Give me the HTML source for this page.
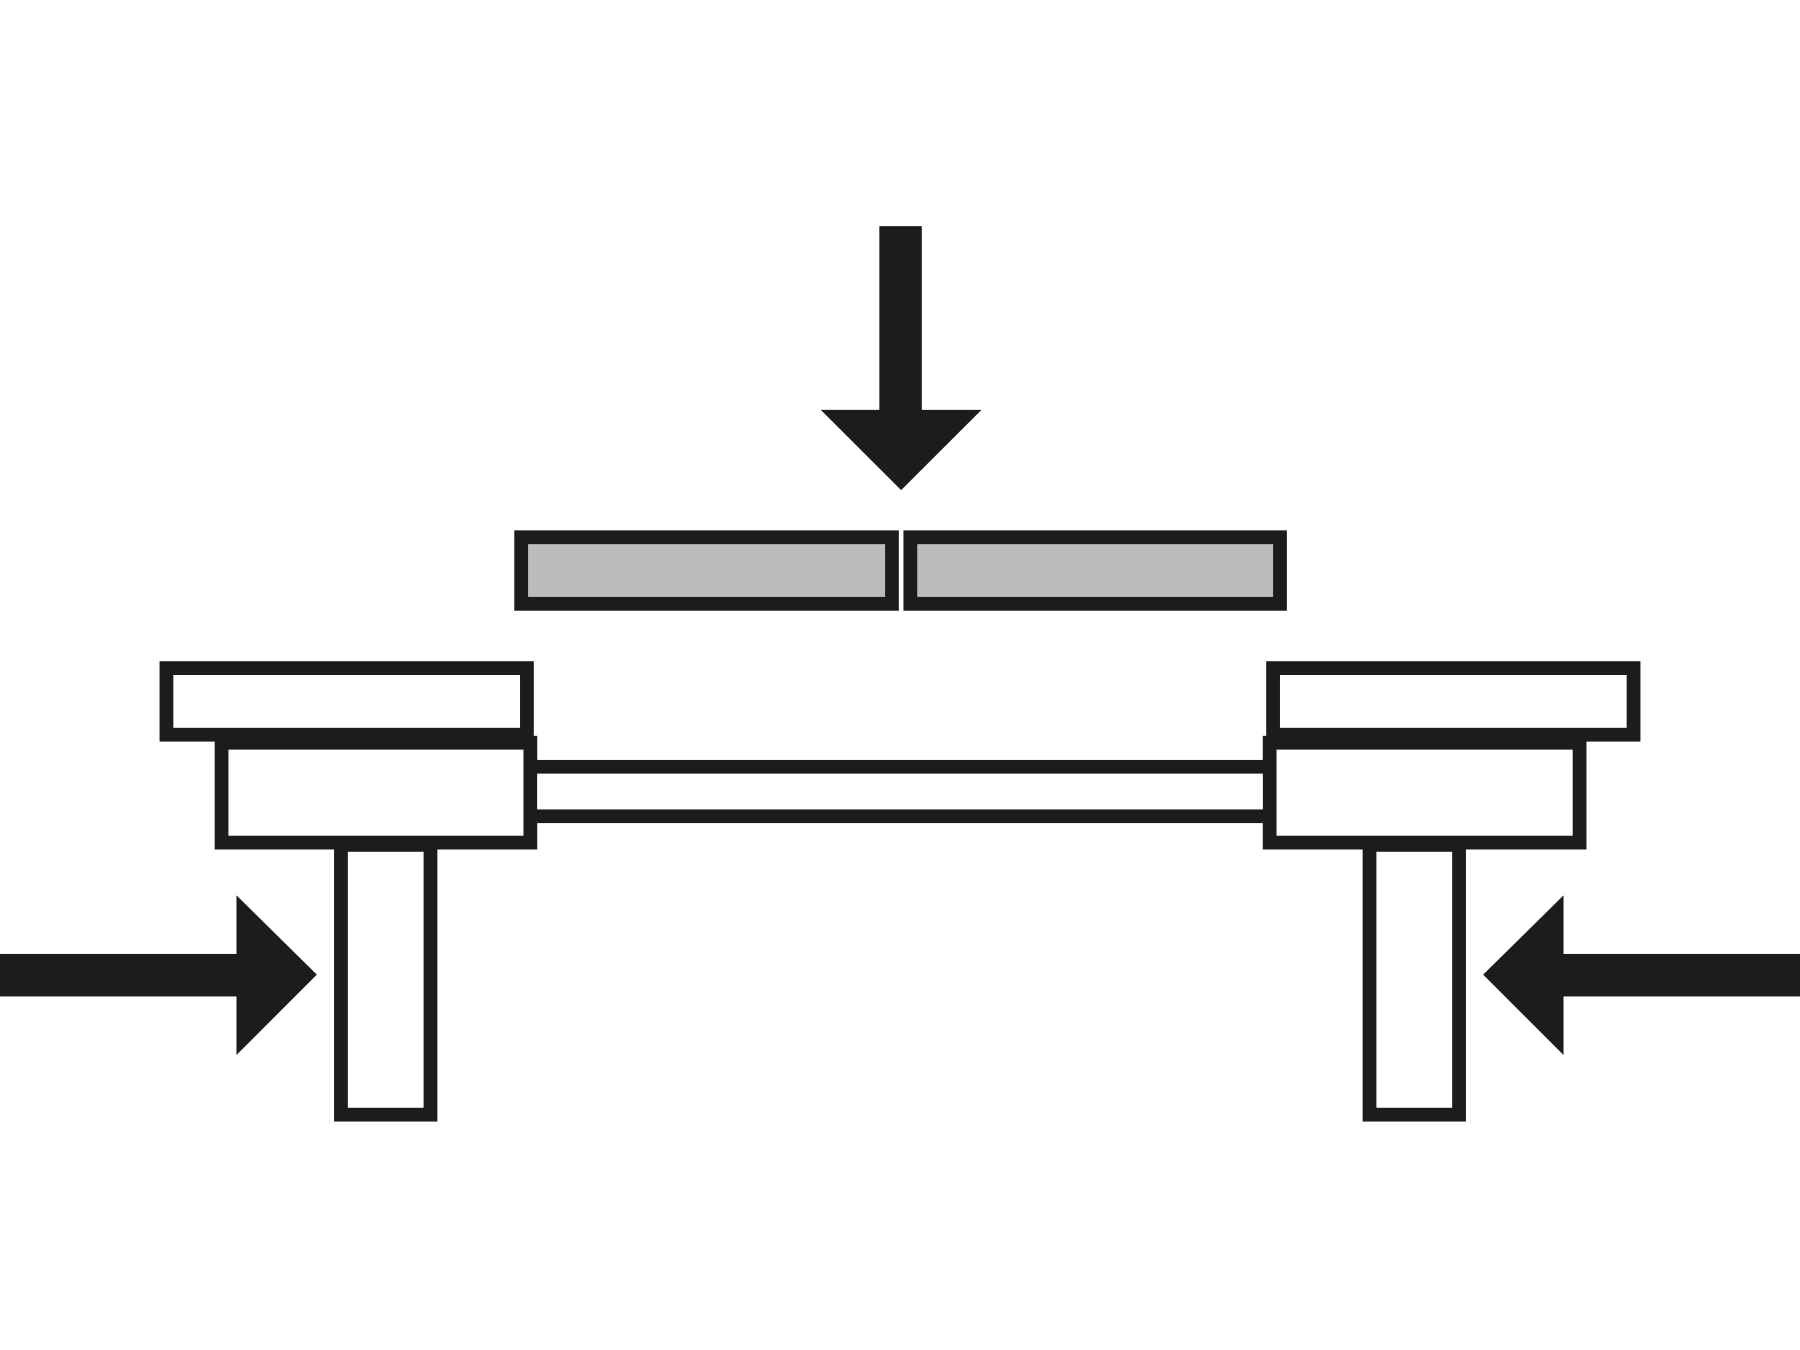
<!DOCTYPE html>
<html><head><style>html,body{margin:0;padding:0;background:#fff;}svg{display:block;}</style></head>
<body>
<svg width="1800" height="1350" viewBox="0 0 1568 1176" preserveAspectRatio="none" xmlns="http://www.w3.org/2000/svg">
<rect width="1568" height="1176" fill="#fff"/>
<g fill="#1c1b1d">
<!-- top arrow -->
<rect x="766" y="197" width="37" height="162"/>
<polygon points="715,357 855,357 785,427"/>
<!-- left arrow -->
<rect x="0" y="831" width="208" height="37"/>
<polygon points="206,780 276,849 206,919"/>
<!-- right arrow -->
<rect x="1360" y="831" width="208" height="37"/>
<polygon points="1362,780 1292,849 1362,919"/>
<!-- gray plates -->
<rect x="448" y="462" width="335" height="70"/>
<rect x="787" y="462" width="334" height="70"/>
<!-- bar -->
<rect x="465" y="662" width="640" height="12"/>
<rect x="465" y="705" width="640" height="12"/>
<!-- left blocks -->
<rect x="187" y="641" width="281" height="99"/>
<rect x="139" y="576" width="326" height="70"/>
<rect x="291" y="735" width="90" height="242"/>
<!-- right blocks -->
<rect x="1100" y="641" width="282" height="99"/>
<rect x="1103" y="576" width="326" height="70"/>
<rect x="1187" y="735" width="90" height="242"/>
</g>
<g fill="#bbbcbe">
<rect x="460" y="474" width="311" height="46"/>
<rect x="799" y="474" width="310" height="46"/>
</g>
<g fill="#fff">
<rect x="468" y="674" width="632" height="31"/>
<rect x="199" y="653" width="257" height="75"/>
<rect x="151" y="588" width="302" height="46"/>
<rect x="303" y="742" width="66" height="223"/>
<rect x="1112" y="653" width="258" height="75"/>
<rect x="1115" y="588" width="302" height="46"/>
<rect x="1199" y="742" width="66" height="223"/>
</g>
</svg>
</body></html>
